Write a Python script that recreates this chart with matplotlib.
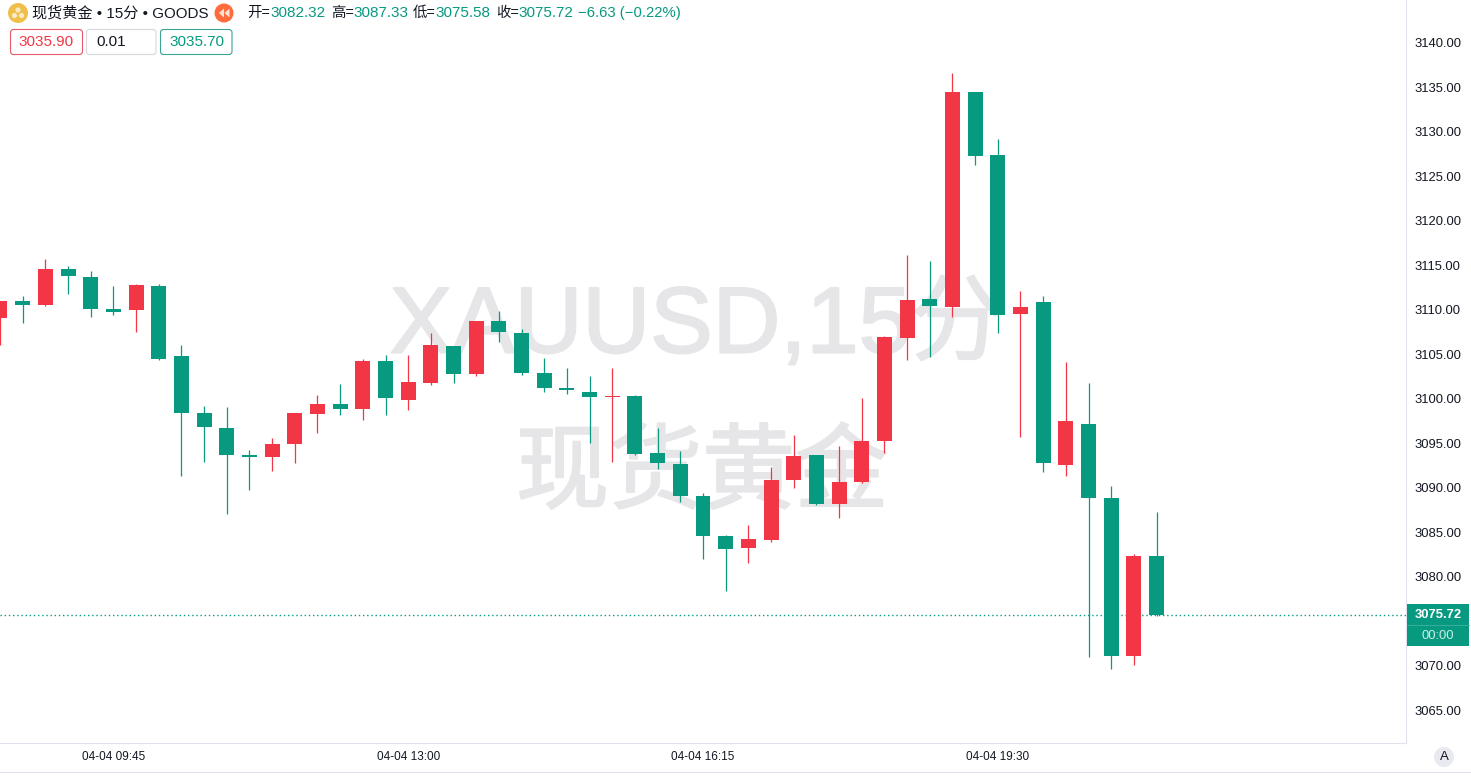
#!/usr/bin/env python3
# XAUUSD 15 min candles, trading terminal look
import matplotlib
matplotlib.use("Agg")
from matplotlib import pyplot as plt
from matplotlib import patheffects
from matplotlib.patches import Circle, FancyBboxPatch, Polygon, Rectangle
import numpy as np

plt.rcParams['font.family'] = ['Liberation Sans', 'Noto Sans CJK SC', 'DejaVu Sans']

# candles, oldest first
opens = [3109.1, 3111.0, 3110.5, 3114.6, 3113.7, 3110.1, 3110.0, 3112.7, 3104.8, 3098.4,
         3096.7, 3093.7, 3093.5, 3094.9, 3098.3, 3099.4, 3098.9, 3104.2, 3099.9, 3101.8,
         3105.9, 3102.8, 3108.7, 3107.4, 3102.9, 3101.2, 3100.8, 3100.2, 3100.3, 3093.9,
         3092.7, 3089.1, 3084.6, 3083.2, 3084.1, 3090.9, 3093.7, 3088.2, 3090.7, 3095.3,
         3106.8, 3111.2, 3110.3, 3134.4, 3127.4, 3109.5, 3110.9, 3092.6, 3097.2, 3088.9,
         3071.1, 3082.32]
highs = [3111.0, 3111.5, 3115.7, 3114.9, 3114.3, 3112.7, 3112.9, 3112.9, 3106.0, 3099.2,
         3099.1, 3094.3, 3095.6, 3098.4, 3100.4, 3101.7, 3104.5, 3104.9, 3104.9, 3107.4,
         3105.9, 3108.7, 3109.9, 3107.8, 3104.6, 3103.5, 3102.6, 3103.5, 3100.4, 3096.7,
         3094.1, 3089.4, 3084.7, 3085.8, 3092.3, 3095.9, 3093.7, 3094.7, 3100.1, 3107.0,
         3116.1, 3115.5, 3136.6, 3134.4, 3129.2, 3112.1, 3111.5, 3104.1, 3101.8, 3090.2,
         3082.6, 3087.33]
lows = [3106.0, 3108.5, 3110.4, 3111.8, 3109.2, 3109.4, 3107.5, 3104.4, 3091.3, 3092.9,
        3087.1, 3089.8, 3091.9, 3092.8, 3096.1, 3098.2, 3097.6, 3098.2, 3098.7, 3101.5,
        3101.8, 3102.6, 3106.4, 3102.7, 3100.8, 3100.5, 3095.0, 3092.9, 3093.7, 3092.1,
        3088.4, 3082.0, 3078.4, 3081.6, 3083.9, 3090.0, 3088.1, 3086.6, 3090.5, 3093.9,
        3104.4, 3104.7, 3109.2, 3126.2, 3107.4, 3095.7, 3091.8, 3091.3, 3071.0, 3069.7,
        3070.1, 3075.58]
closes = [3111.0, 3110.5, 3114.6, 3113.8, 3110.1, 3109.7, 3112.8, 3104.5, 3098.4, 3096.8,
          3093.7, 3093.5, 3094.9, 3098.4, 3099.4, 3098.9, 3104.2, 3100.1, 3101.9, 3106.0,
          3102.8, 3108.7, 3107.5, 3102.9, 3101.2, 3101.0, 3100.2, 3100.3, 3093.8, 3092.8,
          3089.1, 3084.6, 3083.1, 3084.3, 3090.9, 3093.6, 3088.2, 3090.7, 3095.3, 3106.9,
          3111.1, 3110.4, 3134.4, 3127.3, 3109.4, 3110.3, 3092.8, 3097.5, 3088.9, 3071.1,
          3082.3, 3075.72]

# the 3075 label sits behind the last price tag, so it is not listed
price_ticks = [3065, 3070, 3080, 3085, 3090, 3095, 3100, 3105, 3110, 3115, 3120, 3125, 3130, 3135, 3140]
time_tick_pos = [5, 18, 31, 44]
time_tick_labels = ['04-04 09:45', '04-04 13:00', '04-04 16:15', '04-04 19:30']
last_price = 3075.72

UP = '#F23645'
DOWN = '#089981'
BORDER = '#E0E3EB'
TEXT = '#131722'
WATER = '#E6E6E8'

W, H = 1471, 776
fig = plt.figure(figsize=(W / 100, H / 100), dpi=100, facecolor='white')

# main price pane, 1406 x 743 px
ax = fig.add_axes([0, 1 - 743 / H, 1406 / W, 743 / H])
ax.set_xlim(0.0, 62.0)
ax.set_ylim(3061.35, 3144.77)

x = np.arange(len(opens))
o = np.array(opens)
c = np.array(closes)
colors = [UP if c[i] >= o[i] else DOWN for i in x]

ax.vlines(x, lows, highs, colors=colors, linewidth=0.9, zorder=3)
ax.bar(x, np.abs(c - o), bottom=np.minimum(o, c), width=0.66, color=colors, linewidth=0, zorder=4)
ax.axhline(last_price, color=DOWN, linewidth=1.0, linestyle=(0, (1, 2)), zorder=2)

ax.yaxis.tick_right()
ax.set_yticks(price_ticks)
ax.set_yticklabels(['%.2f' % p for p in price_ticks])
ax.set_xticks(time_tick_pos)
ax.set_xticklabels(time_tick_labels)
ax.tick_params(axis='y', length=0, pad=6, labelsize=9.4, labelcolor=TEXT)
ax.tick_params(axis='x', length=0, pad=5.5, labelsize=8.5, labelcolor=TEXT)
for side in ['top', 'left']:
    ax.spines[side].set_visible(False)
for side in ['right', 'bottom']:
    ax.spines[side].set_color(BORDER)
    ax.spines[side].set_linewidth(0.8)

# overlay in pixel coordinates for header, watermark, labels
ov = fig.add_axes([0, 0, 1, 1], facecolor='none')
ov.set_xlim(0, W)
ov.set_ylim(H, 0)
ov.axis('off')

# watermark goes under the candles
bg = fig.add_axes([0, 0, 1, 1], facecolor='none', zorder=-1)
bg.set_xlim(0, W)
bg.set_ylim(H, 0)
bg.axis('off')
ax.set_zorder(1)
ax.patch.set_alpha(0)
ov.set_zorder(2)
thick = [patheffects.withStroke(linewidth=1.5, foreground=WATER)]
bg.text(697, 328, 'XAUUSD,15分', fontsize=67.5, color=WATER, ha='center', va='center', path_effects=thick)
bg.text(702, 477, '现货黄金', fontsize=67, color=WATER, ha='center', va='center', path_effects=thick)

# header
ov.add_patch(Circle((18, 13), 10, color='#F0BE4B', lw=0))
ov.add_patch(Circle((18, 10), 2.6, color='#FBEBC4', lw=0))
ov.add_patch(Circle((14.5, 15.5), 2.6, color='#FBEBC4', lw=0))
ov.add_patch(Circle((21.5, 15.5), 2.6, color='#FBEBC4', lw=0))
ov.text(32, 13, '现货黄金 • 15分 • GOODS', fontsize=10.9, color=TEXT, va='center')
ov.add_patch(Circle((224, 13), 9.5, color='#FF6B3D', lw=0))
ov.add_patch(Polygon([[219, 13], [224, 8.5], [224, 17.5]], color='#FDE3D8', lw=0))
ov.add_patch(Polygon([[224.5, 13], [229.5, 8.5], [229.5, 17.5]], color='#FDE3D8', lw=0))

labels = ['开=', '高=', '低=', '收=']
label_x = [247, 331, 413, 496]
ohlc_text = ['3082.32', '3087.33', '3075.58', '3075.72']
ohlc_x = [270, 353, 435, 518]
for lab, lx, val, vx in zip(labels, label_x, ohlc_text, ohlc_x):
    ov.text(lx, 13, lab, fontsize=10.4, color=TEXT, va='center')
    ov.text(vx, 13, val, fontsize=11, color=DOWN, va='center')
ov.text(578, 13, '−6.63 (−0.22%)', fontsize=10.7, color=DOWN, va='center')

# order boxes
ov_boxes = [(10.5, 72, '#E8596B', '3035.90', UP, 46, 'center'),
            (86.5, 69.5, '#D6D8DE', '0.01', TEXT, 96, 'left'),
            (160.5, 71.5, '#3AA593', '3035.70', DOWN, 196.5, 'center')]
for bx, bw, edge, txt, tcol, tx, align in ov_boxes:
    ov.add_patch(FancyBboxPatch((bx + 2, 31.5), bw - 4, 21, boxstyle='round,pad=2,rounding_size=3',
                                fc='white', ec=edge, lw=0.8))
    ov.text(tx, 42, txt, fontsize=11, color=tcol, ha=align, va='center')

# last price tag on the scale
ov.add_patch(Rectangle((1407, 604), 62, 42, color=DOWN, lw=0))
ov.plot([1407, 1469], [625, 625], color='#3FB3A0', lw=0.6)
ov.text(1438, 615.5, '%.2f' % last_price, fontsize=9.4, fontweight='bold', color='white', ha='center', va='center')
ov.text(1438, 636, '00:00', fontsize=9.4, color='#CFEDE7', ha='center', va='center')

# auto scale button and bottom rule
ov.add_patch(Circle((1444, 757), 10, color='#E9EAF0', lw=0))
ov.text(1444, 757, 'A', fontsize=9.5, color=TEXT, ha='center', va='center')
ov.plot([0, W], [772, 772], color=BORDER, lw=0.8)

fig.savefig('out.png', dpi=100)
